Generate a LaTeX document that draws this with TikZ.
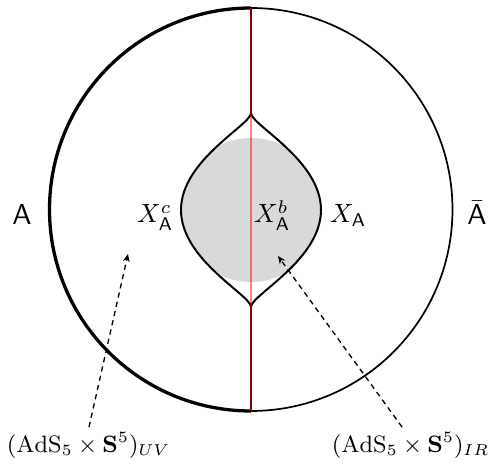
\documentclass[tikz,border=0pt]{standalone}
\usetikzlibrary{arrows.meta}
\begin{document}
\begin{tikzpicture}[x=0.38pt,y=-0.38pt,
  lbl/.style={inner sep=0pt,outer sep=0pt},
  pointer/.style={line width=0.5pt,dash pattern=on 2pt off 1.6pt,-{Stealth[length=3pt,width=2.6pt]}}]
\useasboundingbox (0,0) rectangle (491,465);
% lens shape
\def\lens{(251,113) .. controls (251,125) and (181,160) .. (181,210) .. controls (181,260) and (251,295) .. (251,307) .. controls (251,295) and (321,260) .. (321,210) .. controls (321,160) and (251,125) .. (251,113) -- cycle}
\begin{scope}
  \clip \lens;
  \fill[black!15] (251,210) circle[radius=72];
\end{scope}
\draw[line width=0.75pt] \lens;
% outer circle
\coordinate (top) at (251,8);
\coordinate (bot) at (251,411);
\coordinate (ctop) at (251,113);
\coordinate (cbot) at (251,307);
\draw[line width=1.25pt] (top) arc[start angle=-90,end angle=-270,radius=201.5];
\draw[line width=0.65pt] (top) arc[start angle=-90,end angle=90,radius=201.5];
% vertical line
\draw[line width=0.75pt] (top) -- (ctop);
\draw[line width=0.75pt] (cbot) -- (bot);
\draw[red,opacity=0.5,line width=0.75pt] (top) -- (bot);
% labels
\node[lbl,anchor=base] (A) at (22,225) {\fontsize{11}{13}\selectfont$\mathsf{A}$};
\node[lbl,anchor=base] (Abar) at (477,225) {\fontsize{11}{13}\selectfont$\bar{\mathsf{A}}$};
\node[lbl,anchor=base west] (Xc) at (137,223) {$X_{\mathsf{A}}^c$};
\node[lbl,anchor=base west] (Xb) at (254,223) {$X_{\mathsf{A}}^b$};
\node[lbl,anchor=base west] (X) at (330,223) {$X_{\mathsf{A}}$};
\node[lbl,anchor=base west] (uv) at (7,453) {\small$(\mathrm{AdS}_5\times\mathbf{S}^5)_{UV}$};
\node[lbl,anchor=base west] (ir) at (332,453) {\small$(\mathrm{AdS}_5\times\mathbf{S}^5)_{IR}$};
% pointers
\coordinate (uvtail) at (89,427);
\coordinate (uvtip) at (128,254);
\coordinate (irtail) at (402,427);
\coordinate (irtip) at (278,256);
\draw[pointer] (uvtail) -- (uvtip);
\draw[pointer] (irtail) -- (irtip);
\end{tikzpicture}
\end{document}
